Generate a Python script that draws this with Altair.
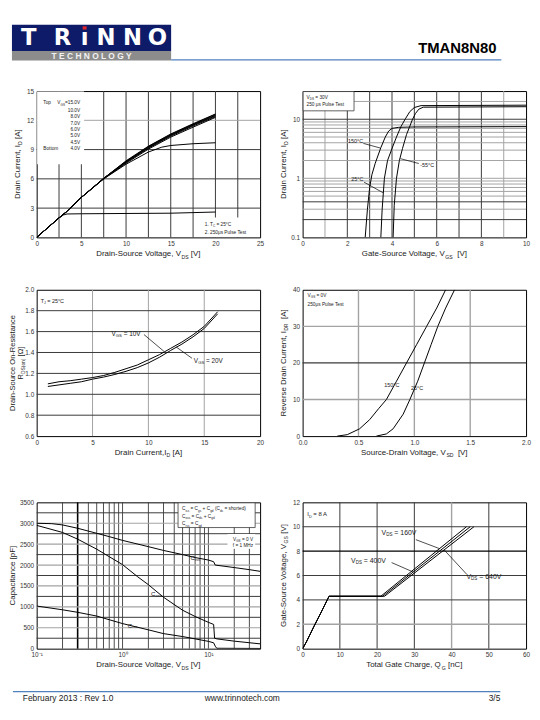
import altair as alt
import pandas as pd

FONT = "Liberation Sans"
W, H = 226, 148
DARK = "#3a3a3a"
GRAY = "#a3a3a3"
TXT = "#1a1a1a"
DUMMY = pd.DataFrame({"k": [0]})

# ---------------- data ----------------
# Panel 1: output characteristics, I_D vs V_DS
P1_XTICKS = [0, 5, 10, 15, 20, 25]
P1_YTICKS = [0, 3, 6, 9, 12, 15]
p1_x = [0, 1, 2, 2.5, 3.3, 5, 7.5, 10, 12.5, 15, 17.5, 20]
p1_15v = [0, 0.8, 1.6, 2.0, 2.6, 4.1, 6.05, 7.85, 9.35, 10.6, 11.65, 12.65]
p1_10v = [0, 0.8, 1.6, 2.0, 2.6, 4.1, 6.05, 7.8, 9.3, 10.55, 11.6, 12.6]
p1_8v = [0, 0.8, 1.6, 2.0, 2.6, 4.1, 6.05, 7.76, 9.25, 10.5, 11.55, 12.52]
p1_7v = [0, 0.8, 1.6, 2.0, 2.6, 4.1, 6.05, 7.72, 9.2, 10.45, 11.5, 12.46]
p1_6v = [0, 0.8, 1.6, 2.0, 2.6, 4.1, 6.02, 7.68, 9.14, 10.38, 11.42, 12.38]
p1_5v = [0, 0.8, 1.6, 2.0, 2.6, 4.1, 6.0, 7.6, 9.05, 10.28, 11.3, 12.3]
p1_x45 = [0, 1, 2, 2.5, 3.3, 5, 7.5, 10, 12.5, 14, 15, 17.5, 20]
p1_45v = [0, 0.8, 1.6, 2.0, 2.6, 4.1, 6.0, 7.5, 8.75, 9.25, 9.42, 9.6, 9.7]
p1_x40 = [0, 1, 2, 2.5, 3.0, 3.4, 5, 10, 15, 20]
p1_40v = [0, 0.8, 1.6, 2.0, 2.3, 2.4, 2.42, 2.45, 2.48, 2.6]
p1_legend = ["10.0V", "8.0V", "7.0V", "6.0V", "5.0V", "4.5V", "4.0V"]

# Panel 2: transfer characteristics, I_D vs V_GS (log)
P2_XTICKS = [0, 2, 4, 6, 8, 10]
P2_YTICKS = [0.1, 1, 10]
p2_x150 = [2.8, 2.9, 3.0, 3.1, 3.25, 3.5, 3.7, 3.85, 4.0, 4.3, 5, 10]
p2_y150 = [0.1, 0.3, 0.7, 1.15, 1.8, 3.3, 5.0, 6.3, 7.0, 7.3, 7.4, 7.5]
p2_x25 = [3.5, 3.56, 3.66, 3.8, 4.0, 4.2, 4.4, 4.6, 4.8, 5.0, 5.3, 10]
p2_y25 = [0.1, 0.3, 1.0, 2.0, 3.2, 5.0, 7.5, 10.2, 13.5, 15.8, 17.0, 17.3]
p2_x55 = [4.05, 4.1, 4.2, 4.33, 4.47, 4.65, 4.92, 5.05, 5.2, 5.4, 10]
p2_y55 = [0.1, 0.35, 1.0, 2.0, 3.2, 5.5, 10.0, 12.5, 14.8, 16.0, 16.3]

# Panel 3: on-resistance vs drain current
P3_XTICKS = [0, 5, 10, 15, 20]
P3_YTICKS = [0.6, 0.8, 1.0, 1.2, 1.4, 1.6, 1.8, 2.0]
p3_x = [1, 2, 3, 4, 5, 6, 7, 8, 9, 10, 11, 12, 13, 14, 15, 16.2]
p3_10v = [1.10, 1.12, 1.13, 1.145, 1.16, 1.18, 1.21, 1.245, 1.28, 1.33, 1.38, 1.44, 1.50, 1.57, 1.65, 1.79]
p3_20v = [1.075, 1.09, 1.105, 1.12, 1.145, 1.165, 1.19, 1.22, 1.255, 1.30, 1.355, 1.42, 1.48, 1.55, 1.63, 1.77]

# Panel 4: body diode forward voltage
P4_XTICKS = [0, 0.5, 1.0, 1.5, 2.0]
P4_YTICKS = [0, 10, 20, 30, 40]
p4_x150 = [0.31, 0.4, 0.51, 0.6, 0.68, 0.75, 0.84, 0.93, 1.02, 1.11, 1.2, 1.28]
p4_y150 = [0, 0.4, 2, 4.5, 7.5, 10, 15, 20, 25, 30, 35, 40]
p4_x25 = [0.66, 0.75, 0.81, 0.9, 0.96, 1.03, 1.09, 1.15, 1.21, 1.28, 1.36]
p4_y25 = [0, 0.6, 2, 6, 10, 15, 20, 25, 30, 35, 40]

# Panel 5: capacitance vs V_DS (log x)
P5_XTICKS = [0.1, 1, 10]
P5_YTICKS = [0, 500, 1000, 1500, 2000, 2500, 3000, 3500]
p5_xciss = [0.1, 0.15, 0.2, 0.3, 0.5, 0.7, 1, 2, 3, 5, 7, 10, 11.5, 12, 20, 30, 40]
p5_ciss = [3000, 2990, 2960, 2880, 2760, 2680, 2590, 2440, 2350, 2250, 2180, 2120, 2080, 2000, 1940, 1890, 1850]
p5_xcoss = [0.1, 0.2, 0.3, 0.5, 0.7, 1, 1.5, 2, 3, 5, 7, 10, 11.5, 11.8, 12.5, 20, 40]
p5_coss = [2950, 2780, 2620, 2380, 2200, 2010, 1720, 1530, 1230, 920, 770, 630, 580, 250, 235, 180, 115]
p5_xcrss = [0.1, 0.2, 0.3, 0.5, 1, 2, 3, 5, 10, 11.5, 12, 12.5, 20, 40]
p5_crss = [1020, 930, 870, 780, 600, 450, 360, 290, 175, 140, 60, 10, 8, 5]

# Panel 6: gate charge
P6_XTICKS = [0, 10, 20, 30, 40, 50, 60]
P6_YTICKS = [0, 2, 4, 6, 8, 10, 12]
p6_x160 = [0, 1, 3, 5, 7.1, 21.0, 44.0]
p6_x400 = [0, 1, 3, 5, 7.1, 21.5, 45.0]
p6_x640 = [0, 1, 3, 5, 7.1, 22.0, 46.0]
p6_y = [0, 0.55, 1.8, 3.0, 4.3, 4.3, 10.0]

# ---------------- helpers ----------------
CW = {' ': 278, '(': 333, ')': 333, '+': 584, ',': 278, '-': 333, '.': 278, '/': 278, ':': 278,
      '=': 584, '[': 278, ']': 278, '°': 400, 'μ': 576, 'Ω': 768}
for ch in "0123456789":
    CW[ch] = 556
CW.update(dict(zip("ABCDEFGHIJKLMNOPQRSTUVWXYZ",
                   [667, 667, 722, 722, 667, 611, 778, 722, 278, 500, 667, 556, 833, 722, 778, 667, 778,
                    722, 667, 611, 722, 667, 944, 667, 667, 611])))
CW.update(dict(zip("abcdefghijklmnopqrstuvwxyz",
                   [556, 556, 500, 556, 556, 278, 556, 556, 222, 222, 500, 222, 833, 556, 556, 556, 556,
                    333, 500, 278, 556, 500, 722, 500, 500, 500])))


def tw(s, size):
    return sum(CW.get(c, 556) for c in s) * size / 1000.0


def rich(parts, size, x, y, anchor="left", angle=0, X=None, Y=None, color=TXT, baseline="alphabetic"):
    sub = size * 0.65
    segs = [(p[0], True) if isinstance(p, tuple) else (p, False) for p in parts]
    widths = [tw(t, sub if s else size) for t, s in segs]
    total = sum(widths)
    off = {"left": 0.0, "center": -total / 2.0, "right": -total}[anchor]
    if X is None:
        data = DUMMY
        enc = {"x": alt.value(x), "y": alt.value(y)}
    else:
        data = pd.DataFrame({"x": [x], "y": [y]})
        enc = {"x": X(), "y": Y()}
    out = []
    for (t, s), w in zip(segs, widths):
        fs = sub if s else size
        body = t.lstrip(" ")
        lead = tw(t[: len(t) - len(body)], fs)
        kw = dict(text=body, align="left", baseline=baseline, font=FONT, fontSize=round(fs, 2),
                  color=color, dx=round(off + lead, 2), dy=round(size * 0.3, 2) if s else 0)
        if angle:
            kw["angle"] = angle
        out.append(alt.Chart(data).mark_text(**kw).encode(**enc))
        off += w
    return out


def ax(values, fmt=None, expr=None):
    kw = dict(values=values, title=None, grid=False, ticks=False, domain=False, labelFont=FONT,
              labelFontSize=6.5, labelColor="#333333", labelPadding=3, labelFlush=False, labelOverlap=False)
    if fmt:
        kw["format"] = fmt
    if expr:
        kw["labelExpr"] = expr
    return alt.Axis(**kw)


def make_xy(xdom, ydom, xt, yt, xlog=False, ylog=False, xfmt=None, yfmt=None, xexpr=None):
    xs = alt.Scale(domain=xdom, nice=False, zero=False, type="log" if xlog else "linear")
    ys = alt.Scale(domain=ydom, nice=False, zero=False, type="log" if ylog else "linear")
    xa = ax(xt, xfmt, xexpr)
    ya = ax(yt, yfmt)
    return (lambda: alt.X("x:Q", scale=xs, axis=xa)), (lambda: alt.Y("y:Q", scale=ys, axis=ya))


def curves(series, X, Y, width=1.0):
    rows = []
    for name, (xs, ys) in series.items():
        for a, b in zip(xs, ys):
            rows.append({"s": name, "x": a, "y": b})
    return alt.Chart(pd.DataFrame(rows)).mark_line(color="black", strokeWidth=width, clip=True).encode(
        x=X(), y=Y(), detail="s:N")


def vgrid(vals, X, color=DARK, w=1.0):
    return alt.Chart(pd.DataFrame({"x": vals})).mark_rule(color=color, strokeWidth=w).encode(x=X())


def hgrid(vals, Y, color=DARK, w=1.0):
    return alt.Chart(pd.DataFrame({"y": vals})).mark_rule(color=color, strokeWidth=w).encode(y=Y())


def box(x1, y1, x2, y2, stroke=None, fill="white"):
    kw = dict(fill=fill)
    if stroke:
        kw.update(stroke=stroke, strokeWidth=0.8)
    return alt.Chart(DUMMY).mark_rect(**kw).encode(x=alt.value(x1), x2=alt.value(x2),
                                                    y=alt.value(y1), y2=alt.value(y2))


def arrow(x1, y1, x2, y2, X, Y):
    df = pd.DataFrame({"x": [x1], "y": [y1], "x2": [x2], "y2": [y2]})
    return alt.Chart(df).mark_rule(color="black", strokeWidth=0.7).encode(
        x=X(), y=Y(), x2=alt.X2("x2"), y2=alt.Y2("y2"))


def xtitle(parts):
    return rich(parts, 8, W / 2, H + 19, anchor="center")


def ytitle(parts, x=-17):
    return rich(parts, 8, x, H / 2, anchor="center", angle=270)


def panel(layers):
    return alt.layer(*layers).properties(width=W, height=H)


TRANSP = alt.ViewBackground(stroke="transparent")

# ---------------- panel 1 ----------------
X1, Y1 = make_xy([0, 25], [0, 15], P1_XTICKS, P1_YTICKS)
L1 = [vgrid([2.5, 5, 7.5, 10, 12.5, 15, 17.5, 20, 22.5], X1), hgrid([3, 6, 9], Y1), hgrid([12], Y1, GRAY),
      box(0.5, 0.5, 48, 74), box(167, 128, 225.5, 147.5),
      curves({"15": (p1_x, p1_15v), "10": (p1_x, p1_10v), "8": (p1_x, p1_8v), "7": (p1_x, p1_7v),
              "6": (p1_x, p1_6v), "5": (p1_x, p1_5v), "4.5": (p1_x45, p1_45v), "4": (p1_x40, p1_40v)},
             X1, Y1)]
L1 += rich(["Top"], 4.8, 6.7, 13.5)
L1 += rich(["V", ("GS",), "=15.0V"], 4.8, 44, 13.5, anchor="right")
for i, lab in enumerate(p1_legend):
    L1 += rich([lab], 4.8, 44, 21.3 + 6.4 * i, anchor="right")
L1 += rich(["Bottom"], 4.8, 6.7, 21.3 + 6.4 * 6)
L1 += rich(["1. T", ("C",), " = 25°C"], 4.8, 170, 136.5)
L1 += rich(["2. 250μs Pulse Test"], 4.8, 170, 144.5)
L1 += xtitle(["Drain-Source Voltage, V", ("DS",), " [V]"])
L1 += ytitle(["Drain Current, I", ("D",), " [A]"])
P1 = panel(L1)

# ---------------- panel 2 ----------------
X2, Y2 = make_xy([0, 10], [0.1, 30], P2_XTICKS, P2_YTICKS, ylog=True, yfmt="~g")
L2 = [vgrid([2, 3, 4, 5, 6, 7, 8], X2), vgrid([1, 9], X2, GRAY),
      hgrid([0.3, 0.5, 0.6, 0.7, 0.8, 0.9, 1, 2, 3, 4, 5, 6, 7, 8, 9, 20], Y2, GRAY),
      hgrid([0.2, 0.4, 10], Y2),
      box(0.5, 0.5, 52, 20, stroke=DARK),
      curves({"150": (p2_x150, p2_y150), "25": (p2_x25, p2_y25), "-55": (p2_x55, p2_y55)}, X2, Y2),
      arrow(2.72, 3.9, 3.48, 3.25, X2, Y2), arrow(2.75, 0.86, 3.6, 0.57, X2, Y2),
      arrow(5.2, 1.78, 4.38, 2.15, X2, Y2)]
L2 += rich(["V", ("DS",), " = 30V"], 4.8, 4, 8)
L2 += rich(["250 μs Pulse Test"], 4.8, 4, 15.5)
L2 += rich(["150°C"], 5.5, 2.03, 4.2, X=X2, Y=Y2, baseline="middle")
L2 += rich(["25°C"], 5.5, 2.18, 0.96, X=X2, Y=Y2, baseline="middle")
L2 += rich(["-55°C"], 5.5, 5.26, 1.71, X=X2, Y=Y2, baseline="middle")
L2 += xtitle(["Gate-Source Voltage, V", ("GS",), "  [V]"])
L2 += ytitle(["Drain Current, I", ("D",), " [A]"])
P2 = panel(L2)

# ---------------- panel 3 ----------------
X3, Y3 = make_xy([0, 20], [0.6, 2.0], P3_XTICKS, P3_YTICKS, yfmt=".1f")
L3 = [vgrid([5, 10, 15], X3, GRAY), hgrid([0.8, 1.0, 1.2, 1.4, 1.6, 1.8], Y3),
      curves({"10": (p3_x, p3_10v), "20": (p3_x, p3_20v)}, X3, Y3),
      arrow(9.6, 1.572, 11.4, 1.41, X3, Y3), arrow(13.9, 1.345, 12.5, 1.452, X3, Y3)]
L3 += rich(["T", ("J",), " = 25°C"], 5.5, 4, 13)
L3 += rich(["V", ("GS",), " = 10V"], 6.5, 6.7, 1.58, X=X3, Y=Y3, baseline="middle")
L3 += rich(["V", ("GS",), " = 20V"], 6.5, 14.07, 1.32, X=X3, Y=Y3, baseline="middle")
L3 += xtitle(["Drain Current,I", ("D",), " [A]"])
L3 += rich(["Drain-Source On-Resistance"], 7.6, -21.8, H / 2, anchor="center", angle=270)
L3 += rich(["R", ("DS(on)",), " [Ω]"], 7.6, -14.2, H / 2, anchor="center", angle=270)
P3 = panel(L3)

# ---------------- panel 4 ----------------
X4, Y4 = make_xy([0, 2], [0, 40], P4_XTICKS, P4_YTICKS, xfmt=".1f")
L4 = [vgrid([0.5, 1.0, 1.5], X4, GRAY, 1.4), hgrid([10, 30], Y4, GRAY, 1.4), hgrid([20], Y4, DARK, 1.2),
      curves({"150": (p4_x150, p4_y150), "25": (p4_x25, p4_y25)}, X4, Y4)]
L4 += rich(["V", ("GS",), " = 0V"], 4.8, 5, 7)
L4 += rich(["250μs Pulse Test"], 4.8, 5, 16.5)
L4 += rich(["150°C"], 5.5, 0.73, 14.05, X=X4, Y=Y4, baseline="middle")
L4 += rich(["25°C"], 5.5, 0.97, 13.05, X=X4, Y=Y4, baseline="middle")
L4 += xtitle(["Source-Drain Voltage, V", ("SD",), "  [V]"])
L4 += ytitle(["Reverse Drain Current, I", ("DR",), "  [A]"])
P4 = panel(L4)

# ---------------- panel 5 ----------------
X5, Y5 = make_xy([0.1, 40], [0, 3500], P5_XTICKS, P5_YTICKS, xlog=True, yfmt="d",
                 xexpr="datum.value < 0.5 ? '10⁻¹' : (datum.value < 5 ? '10⁰' : '10¹')")
L5 = [vgrid([0.2, 0.4, 0.5, 0.6, 0.7, 0.8, 0.9, 1, 2, 3, 4, 5, 6, 7, 8, 9, 10, 20, 30], X5, DARK, 0.9),
      vgrid([0.3], X5, "black", 1.6),
      hgrid([500, 1000, 1500, 2000, 2500, 3000], Y5, GRAY, 1.2),
      hgrid([250, 750, 1250, 1750, 2250, 2750, 3250], Y5, DARK, 1.0),
      box(143, 0.5, 221, 25.5, stroke=DARK), box(193, 32, 221, 47),
      curves({"ciss": (p5_xciss, p5_ciss), "coss": (p5_xcoss, p5_coss), "crss": (p5_xcrss, p5_crss)},
             X5, Y5)]
L5 += rich(["C", ("iss",), " = C", ("gs",), " + C", ("gd",), " (C", ("ds",), " = shorted)"], 4.8, 147, 8)
L5 += rich(["C", ("oss",), " = C", ("ds",), " + C", ("gd",)], 4.8, 147, 15.5)
L5 += rich(["C", ("rss",), " = C", ("gd",)], 4.8, 147, 23)
L5 += rich(["V", ("GS",), " = 0 V"], 4.8, 219, 39, anchor="right")
L5 += rich(["f = 1 MHz"], 4.8, 219, 45.5, anchor="right")
L5 += rich(["C", ("iss",)], 6.2, 6.2, 2168, X=X5, Y=Y5, baseline="middle")
L5 += rich(["C", ("oss",)], 6.2, 2.15, 1300, X=X5, Y=Y5, baseline="middle")
L5 += rich(["C", ("rss",)], 6.2, 1.15, 551, X=X5, Y=Y5, baseline="middle")
L5 += xtitle(["Drain-Source Voltage, V", ("DS",), " [V]"])
L5 += ytitle(["Capacitance [pF]"], x=-21.5)
P5 = panel(L5)

# ---------------- panel 6 ----------------
X6, Y6 = make_xy([0, 60], [0, 12], P6_XTICKS, P6_YTICKS)
L6 = [vgrid([10, 20, 30, 50], X6), vgrid([40], X6, GRAY, 1.4), hgrid([2], Y6, GRAY, 1.4),
      hgrid([4, 6, 10], Y6), hgrid([8], Y6, "black", 1.4),
      curves({"160": (p6_x160, p6_y), "400": (p6_x400, p6_y), "640": (p6_x640, p6_y)}, X6, Y6),
      arrow(30.4, 8.94, 36.8, 8.2, X6, Y6), arrow(23.9, 7.06, 29.6, 6.3, X6, Y6),
      arrow(44, 6.12, 38.0, 8.1, X6, Y6)]
L6 += rich(["I", ("D",), " = 8 A"], 6, 4.7, 14)
L6 += rich(["V", ("DS",), " = 160V"], 7, 21.2, 9.5, X=X6, Y=Y6, baseline="middle")
L6 += rich(["V", ("DS",), " = 400V"], 7, 13.0, 7.19, X=X6, Y=Y6, baseline="middle")
L6 += rich(["V", ("DS",), " = 640V"], 7, 44.0, 5.85, X=X6, Y=Y6, baseline="middle")
L6 += xtitle(["Total Gate Charge, Q", ("G",), " [nC]"])
L6 += ytitle(["Gate-Source Voltage, V", ("GS",), " [V]"])
P6 = panel(L6)

# ---------------- header / footer ----------------
def ptext(t, x, y, size, color, align="left", bold=False, font=FONT):
    kw = dict(text=t, align=align, baseline="alphabetic", fontSize=size, color=color, font=font)
    if bold:
        kw["fontWeight"] = "bold"
    return alt.Chart(DUMMY).mark_text(**kw).encode(x=alt.value(x), y=alt.value(y))


HL = [box(-28, 0, -27.6, 1), box(-25, 0, 136, 26.5, fill="#0d1b68"), box(-25, 26.5, 136, 36, fill="#8c8c8c")]
for letter, cx in zip(["T", "R", "ı", "N", "N", "O"], [-8, 26, 48.5, 70, 97, 122]):
    HL.append(ptext(letter, cx, 20.5, 23, "white", align="center", bold=True, font="DejaVu Sans"))
HL.append(box(46.5, 1.5, 50.5, 4.8, fill="#e0262b"))
HL.append(ptext("T E C H N O L O G Y", 55.5, 34.5, 8.5, "#f2f2f2", align="center", bold=True))
HL.append(alt.Chart(DUMMY).mark_rule(color="#4f81bd", strokeWidth=1.2).encode(
    x=alt.value(136), x2=alt.value(470), y=alt.value(35.5)))
HL.append(ptext("TMAN8N80", 465, 29, 15, "black", align="right", bold=True))
header = alt.layer(*HL).properties(width=W, height=67, view=TRANSP)

FL = [alt.Chart(DUMMY).mark_rule(color="#4f81bd", strokeWidth=1.2).encode(
    x=alt.value(-24), x2=alt.value(469), y=alt.value(43.5)),
      ptext("February 2013 : Rev 1.0", -14, 53, 8.5, "#222222"),
      ptext("www.trinnotech.com", 208, 53, 8.5, "#222222", align="center"),
      ptext("3/5", 469, 53, 8.5, "#222222", align="right")]
footer = alt.layer(*FL).properties(width=W, height=55, view=TRANSP)


def blank(h):
    return alt.Chart(DUMMY).mark_text(text="").encode(x=alt.value(0), y=alt.value(0)).properties(
        width=W, height=h, view=TRANSP)


chart = alt.concat(
    header, blank(67),
    P1, P2,
    blank(53), blank(53),
    P3, P4,
    blank(67), blank(67),
    P5, P6,
    footer, blank(55),
    columns=2, spacing={"row": 0, "column": 43}, bounds="flush",
    padding={"left": 0, "top": 6, "right": 0, "bottom": 0},
).configure(font=FONT).configure_view(stroke="black", strokeWidth=1)

chart.save("out.html", embed_options={"renderer": "svg", "actions": False})
